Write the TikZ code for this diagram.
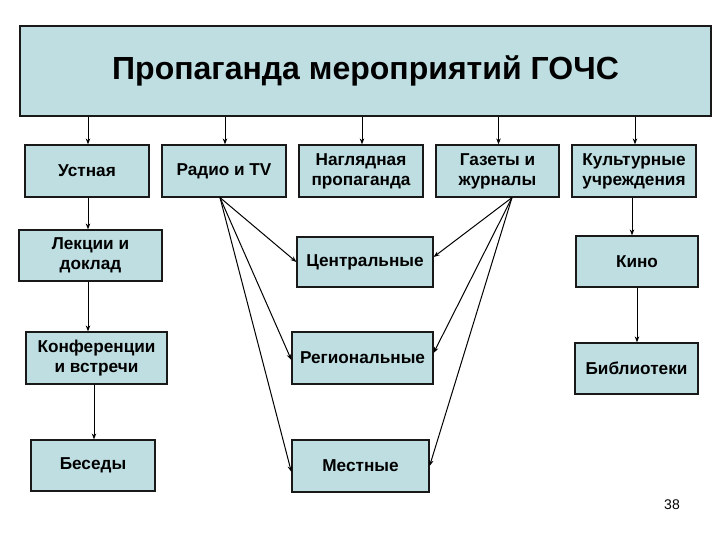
\documentclass[tikz,border=0pt]{standalone}
\usepackage{fontspec}
\setmainfont{Liberation Sans}
\usetikzlibrary{arrows.meta,calc}
\definecolor{boxfill}{RGB}{190,222,226}
\definecolor{edge}{RGB}{25,25,25}
\begin{document}
\begin{tikzpicture}[x=1pt,y=-1pt,
  box/.style={draw=edge, fill=boxfill, line width=1.2pt, inner sep=0pt, align=center,
    font=\fontsize{17.2}{20}\selectfont\bfseries},
  conn/.style={draw=black, line width=1pt, -{Stealth[length=6pt,width=4.5pt]}},
  thin/.style={draw=black, line width=0.8pt, -{Stealth[length=6pt,width=4.5pt]}}]
\useasboundingbox (0,0) rectangle (720,540);
\node[box, line width=2.4pt, minimum width=691pt, minimum height=90pt,
  font=\fontsize{32}{36}\selectfont\bfseries] (main) at (365.5,71) {Пропаганда мероприятий ГОЧС};
\node[box, minimum width=124pt, minimum height=52pt] (ustn) at (87,171) {Устная};
\node[box, minimum width=124pt, minimum height=52pt] (radio) at (224,171) {Радио и TV};
\node[box, minimum width=124pt, minimum height=52pt] (nagl) at (361,171) {Наглядная\\пропаганда};
\node[box, minimum width=123pt, minimum height=52pt] (gaz) at (497.5,171) {Газеты и\\журналы};
\node[box, minimum width=124pt, minimum height=52pt] (kult) at (634,171) {Культурные\\учреждения};
\node[box, minimum width=143pt, minimum height=51pt] (lekc) at (90.5,255.5) {Лекции и\\доклад};
\node[box, minimum width=141pt, minimum height=52pt] (konf) at (96.5,358) {Конференции\\и встречи};
\node[box, minimum width=124pt, minimum height=51pt] (bes) at (93,465.5) {Беседы};
\node[box, minimum width=136pt, minimum height=50pt] (centr) at (365,262) {Центральные};
\node[box, minimum width=141pt, minimum height=52pt] (reg) at (362.5,358) {Региональные};
\node[box, minimum width=137pt, minimum height=52pt] (mest) at (360.5,466) {Местные};
\node[box, minimum width=122pt, minimum height=51pt] (kino) at (637,261.5) {Кино};
\node[box, minimum width=123pt, minimum height=51pt] (bibl) at (636.5,368.5) {Библиотеки};
\node[font=\fontsize{14}{16}\selectfont] (page) at (672,505) {38};
% top-level arrows
\foreach \n in {ustn,radio,nagl,gaz,kult}
  \draw[conn] (main.south -| \n.north) ++(1,0) -- (\n.north -| {$(\n.north)+(1,0)$});
% left column
\draw[conn] (ustn.south) ++(1,0) coordinate (u1) -- (u1 |- lekc.north);
\draw[conn] (lekc.south -| u1) -- (u1 |- konf.north);
\draw[thin] (konf.south -| bes.north) ++(1,0) coordinate (k1) -- (k1 |- bes.north);
% right column
\draw[conn] (kult.south) ++(-2,0) coordinate (c1) -- (c1 |- kino.north);
\draw[conn] (kino.south) -- (kino.south |- bibl.north);
% radiating arrows
\coordinate (rsrc) at ($(radio.south)+(-4,0)$);
\coordinate (gsrc) at ($(gaz.south)+(14.5,0)$);
\draw[conn] (rsrc) -- (centr.west);
\draw[conn] (rsrc) -- ($(reg.west)+(0,2)$);
\draw[conn] (rsrc) -- ($(mest.west)+(0,6)$);
\draw[conn] (gsrc) -- ($(centr.east)+(0,-5)$);
\draw[conn] (gsrc) -- ($(reg.east)+(0,-5)$);
\draw[conn] (gsrc) -- (mest.east);
\end{tikzpicture}
\end{document}
